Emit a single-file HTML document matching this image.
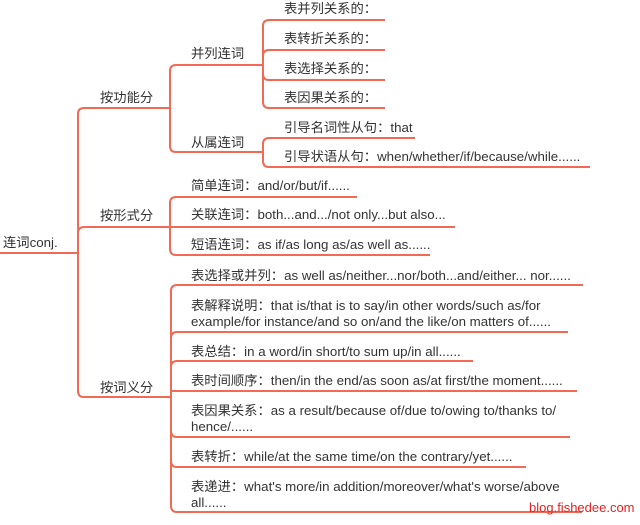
<!DOCTYPE html>
<html><head><meta charset="utf-8"><style>
body{margin:0;background:#fff;width:640px;height:525px;overflow:hidden;position:relative;font-family:"Liberation Sans","Noto Sans CJK SC",sans-serif;}
.t{position:absolute;font-size:13.3px;color:#333;white-space:nowrap;line-height:16px;}
svg{position:absolute;left:0;top:0;}
</style></head><body>
<svg width="640" height="525" fill="none" stroke="#f06a55" stroke-width="2">
<path d="M0 253 H78"/>
<path d="M78 253 V114 Q78 108 84 108 H170"/>
<path d="M78 253 V233 Q78 227 84 227 H170"/>
<path d="M78 253 V391 Q78 397 84 397 H170"/>
<path d="M170 108 V71 Q170 65 176 65 H263"/>
<path d="M170 108 V146 Q170 152 176 152 H263"/>
<path d="M263 65 V26 Q263 20 269 20 H385"/>
<path d="M263 65 V56 Q263 50 269 50 H385"/>
<path d="M263 65 V74 Q263 80 269 80 H385"/>
<path d="M263 65 V102 Q263 108 269 108 H385"/>
<path d="M263 152 V144 Q263 138 269 138 H415"/>
<path d="M263 152 V161 Q263 167 269 167 H590"/>
<path d="M170 227 V203 Q170 197 176 197 H357"/>
<path d="M170 227 H455"/>
<path d="M170 227 V249 Q170 255 176 255 H430"/>
<path d="M171 397 V291 Q171 285 177 285 H583"/>
<path d="M171 397 V338 Q171 332 177 332 H568"/>
<path d="M171 397 V367 Q171 361 177 361 H473"/>
<path d="M171 397 V391 H577"/>
<path d="M171 397 V431 Q171 437 177 437 H570"/>
<path d="M171 397 V461 Q171 467 177 467 H526"/>
<path d="M171 397 V506 Q171 512 177 512 H582"/>
</svg>
<div class="t" style="left:3px;top:235px">连词conj.</div>
<div class="t" style="left:100px;top:90px">按功能分</div>
<div class="t" style="left:100px;top:208px">按形式分</div>
<div class="t" style="left:100px;top:380px">按词义分</div>
<div class="t" style="left:191px;top:46px">并列连词</div>
<div class="t" style="left:191px;top:135px">从属连词</div>
<div class="t" style="left:284px;top:1px">表并列关系的：</div>
<div class="t" style="left:284px;top:31px">表转折关系的：</div>
<div class="t" style="left:284px;top:61px">表选择关系的：</div>
<div class="t" style="left:284px;top:90px">表因果关系的：</div>
<div class="t" style="left:284px;top:120px">引导名词性从句：that</div>
<div class="t" style="left:284px;top:149px">引导状语从句：when/whether/if/because/while......</div>
<div class="t" style="left:191px;top:178px">简单连词：and/or/but/if......</div>
<div class="t" style="left:191px;top:207px">关联连词：both...and.../not only...but also...</div>
<div class="t" style="left:191px;top:237px">短语连词：as if/as long as/as well as......</div>
<div class="t" style="left:191px;top:268px">表选择或并列：as well as/neither...nor/both...and/either... nor......</div>
<div class="t" style="left:191px;top:298px">表解释说明：that is/that is to say/in other words/such as/for<br>example/for instance/and so on/and the like/on matters of......</div>
<div class="t" style="left:191px;top:344px">表总结：in a word/in short/to sum up/in all......</div>
<div class="t" style="left:191px;top:373px">表时间顺序：then/in the end/as soon as/at first/the moment......</div>
<div class="t" style="left:191px;top:403px">表因果关系：as a result/because of/due to/owing to/thanks to/<br>hence/......</div>
<div class="t" style="left:191px;top:449px">表转折：while/at the same time/on the contrary/yet......</div>
<div class="t" style="left:191px;top:479px">表递进：what's more/in addition/moreover/what's worse/above<br>all......</div>
<div class="t" style="left:529px;top:500px;color:#e82020;font-size:13px">blog.fishedee.com</div>
</body></html>
